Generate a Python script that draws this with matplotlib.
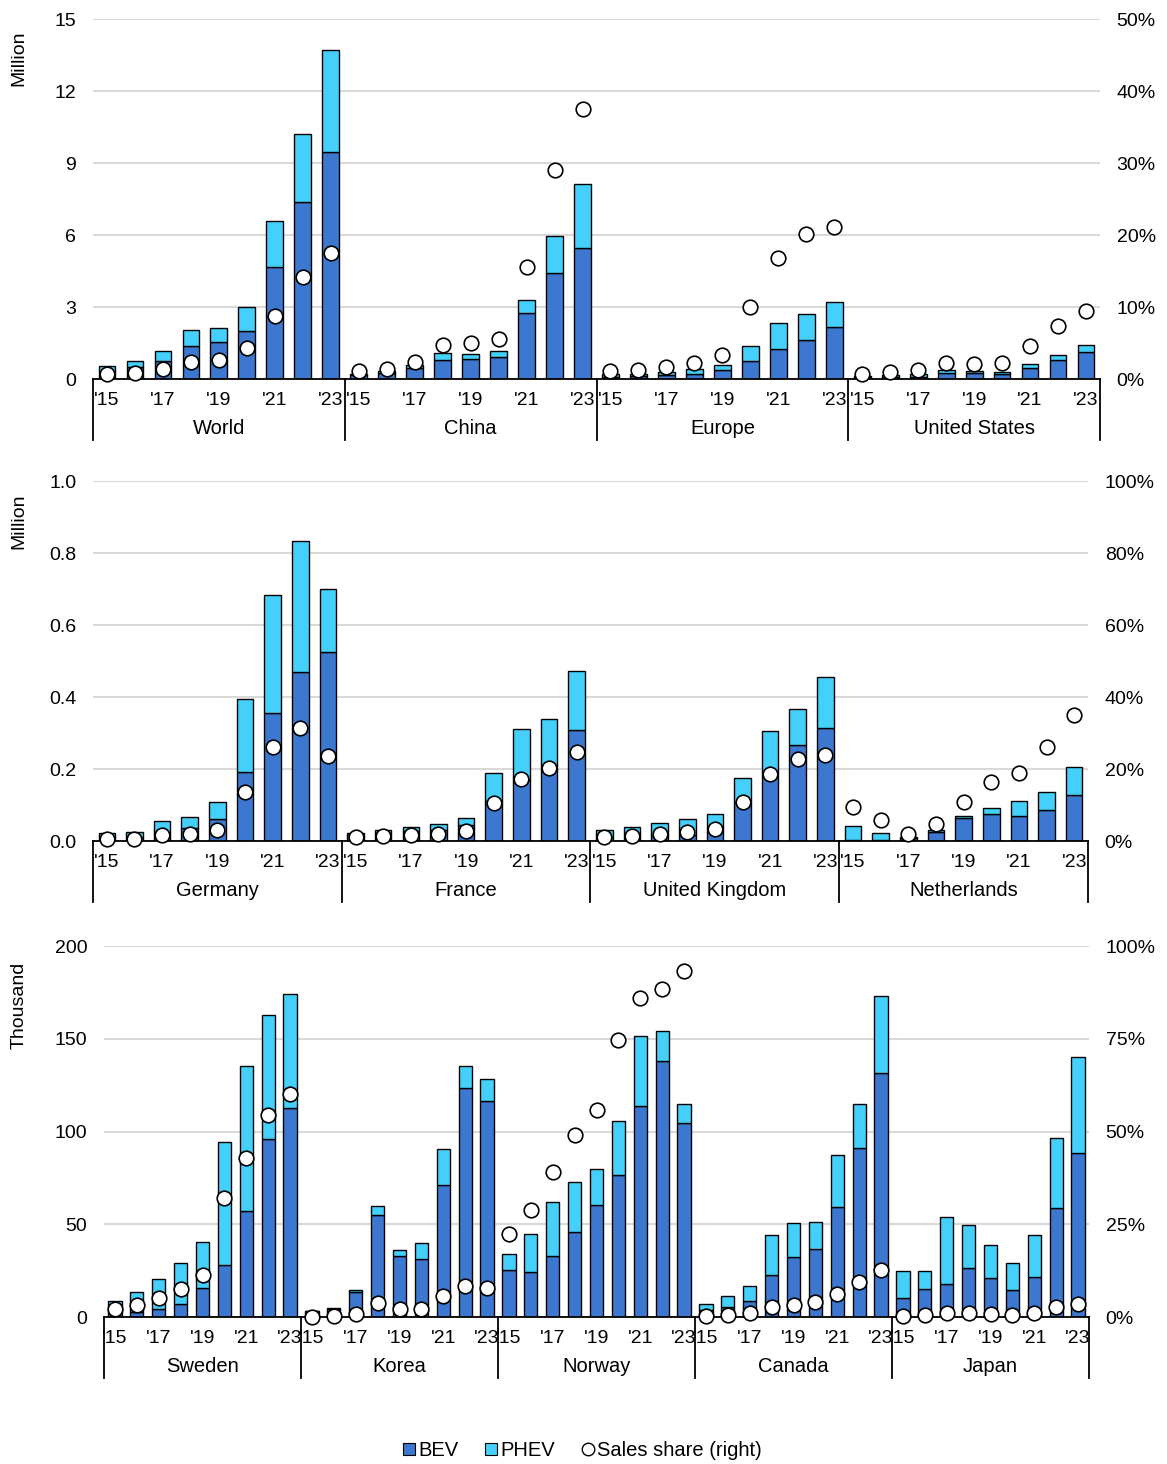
import matplotlib
matplotlib.use("Agg")
import matplotlib.pyplot as plt
import matplotlib.transforms as mtransforms
from matplotlib.lines import Line2D
from matplotlib.ticker import FuncFormatter

plt.rcParams['font.family'] = ['Liberation Sans', 'DejaVu Sans']
plt.rcParams['font.size'] = 14

BEV_COLOR = '#3c78d0'
PHEV_COLOR = '#45d0fc'
GRID_COLOR = '#d9d9d9'

years = ["'15", "", "'17", "", "'19", "", "'21", "", "'23"]

# top panel, million vehicles
top_regions = ['World', 'China', 'Europe', 'United States']
top_bev = [
    [0.33, 0.48, 0.76, 1.36, 1.54, 2.01, 4.67, 7.36, 9.47],
    [0.15, 0.26, 0.47, 0.80, 0.83, 0.92, 2.73, 4.43, 5.44],
    [0.10, 0.11, 0.15, 0.20, 0.37, 0.76, 1.23, 1.64, 2.15],
    [0.07, 0.09, 0.10, 0.25, 0.24, 0.22, 0.46, 0.80, 1.11],
]
top_phev = [
    [0.22, 0.28, 0.42, 0.67, 0.58, 0.99, 1.90, 2.86, 4.25],
    [0.05, 0.09, 0.13, 0.28, 0.22, 0.23, 0.55, 1.51, 2.70],
    [0.09, 0.11, 0.14, 0.20, 0.20, 0.63, 1.10, 1.07, 1.07],
    [0.04, 0.06, 0.10, 0.11, 0.09, 0.07, 0.17, 0.19, 0.29],
]
top_share = [
    [0.7, 0.9, 1.4, 2.4, 2.6, 4.25, 8.8, 14.2, 17.5],
    [1.05, 1.43, 2.4, 4.7, 5.0, 5.6, 15.5, 29.0, 37.5],
    [1.15, 1.2, 1.67, 2.26, 3.3, 10.0, 16.8, 20.2, 21.1],
    [0.7, 1.0, 1.3, 2.26, 2.1, 2.2, 4.6, 7.4, 9.5],
]

# middle panel, million vehicles
mid_regions = ['Germany', 'France', 'United Kingdom', 'Netherlands']
mid_bev = [
    [0.012, 0.011, 0.025, 0.035, 0.062, 0.193, 0.356, 0.470, 0.524],
    [0.017, 0.022, 0.027, 0.031, 0.044, 0.110, 0.170, 0.212, 0.309],
    [0.010, 0.011, 0.014, 0.016, 0.038, 0.108, 0.190, 0.266, 0.315],
    [0.004, 0.004, 0.008, 0.025, 0.063, 0.076, 0.069, 0.087, 0.128],
]
mid_phev = [
    [0.011, 0.014, 0.030, 0.033, 0.046, 0.201, 0.326, 0.363, 0.176],
    [0.006, 0.009, 0.011, 0.016, 0.019, 0.079, 0.141, 0.127, 0.164],
    [0.020, 0.028, 0.035, 0.045, 0.037, 0.068, 0.116, 0.102, 0.140],
    [0.039, 0.018, 0.002, 0.006, 0.006, 0.017, 0.041, 0.050, 0.078],
]
mid_share = [
    [0.65, 0.65, 1.6, 1.9, 3.05, 13.6, 26.0, 31.4, 23.5],
    [1.1, 1.4, 1.6, 1.9, 2.7, 10.5, 17.1, 20.4, 24.8],
    [1.0, 1.5, 1.9, 2.6, 3.2, 10.7, 18.6, 22.8, 24.0],
    [9.5, 5.7, 1.85, 4.7, 10.7, 16.3, 18.8, 26.2, 34.9],
]

# bottom panel, thousand vehicles
bot_regions = ['Sweden', 'Korea', 'Norway', 'Canada', 'Japan']
bot_bev = [
    [2.9, 2.7, 4.3, 6.8, 15.5, 27.9, 57.3, 96.0, 112.7],
    [3.0, 4.3, 13.7, 55.2, 33.1, 31.1, 71.3, 123.6, 116.6],
    [25.5, 24.3, 33.1, 46.0, 60.2, 76.7, 113.6, 138.2, 104.6],
    [4.0, 5.2, 8.6, 22.5, 32.2, 36.8, 59.3, 91.3, 131.5],
    [10.2, 15.3, 18.0, 26.4, 21.2, 14.6, 21.6, 58.8, 88.2],
]
bot_phev = [
    [5.7, 10.6, 16.0, 22.3, 24.9, 66.3, 78.0, 66.8, 61.3],
    [0.2, 0.6, 0.9, 4.6, 2.8, 9.0, 19.1, 11.5, 11.9],
    [8.3, 20.4, 29.1, 26.6, 19.6, 28.8, 38.1, 16.2, 10.0],
    [2.8, 6.3, 8.1, 21.7, 18.7, 14.6, 28.2, 23.7, 41.4],
    [14.4, 9.3, 36.1, 23.4, 17.8, 14.7, 22.8, 37.5, 52.1],
]
bot_share = [
    [2.25, 3.2, 5.0, 7.5, 11.2, 32.2, 42.9, 54.4, 60.0],
    [0.1, 0.2, 0.8, 3.8, 2.2, 2.2, 5.75, 8.4, 7.8],
    [22.3, 28.9, 39.2, 49.1, 55.8, 74.7, 86.1, 88.4, 93.2],
    [0.35, 0.6, 1.0, 2.8, 3.3, 4.1, 6.3, 9.5, 12.7],
    [0.4, 0.45, 1.1, 1.0, 0.8, 0.6, 1.2, 2.8, 3.5],
]

W, H = 1167, 1464
fig = plt.figure(figsize=(W / 100, H / 100), dpi=100)


def px_axes(left, right, top, bottom):
    return fig.add_axes([left / W, 1 - bottom / H, (right - left) / W, (bottom - top) / H])


def draw_panel(ax, regions, bev, phev, share, ymax, ystep, smax, sstep, unit, ylab_y):
    n = len(years)
    xs_all, labels_all = [], []
    for g, name in enumerate(regions):
        xs = [g * n + i for i in range(n)]
        ax.bar(xs, bev[g], width=0.6, color=BEV_COLOR, edgecolor='black', linewidth=1.0, zorder=2)
        ax.bar(xs, phev[g], width=0.6, bottom=bev[g], color=PHEV_COLOR,
               edgecolor='black', linewidth=1.0, zorder=2)
        xs_all += xs
        labels_all += years
    ax.set_xlim(-0.5, len(regions) * n - 0.5)
    ax.set_ylim(0, ymax)
    ax.set_yticks([ystep * k for k in range(int(round(ymax / ystep)) + 1)])
    if ystep < 1:
        ax.yaxis.set_major_formatter(FuncFormatter(lambda v, p: '%.1f' % v))
    ax.set_xticks(xs_all)
    ax.set_xticklabels(labels_all)
    ax.tick_params(axis='both', length=0, labelsize=14)
    ax.tick_params(axis='y', pad=12)
    ax.tick_params(axis='x', pad=9.5)
    ax.grid(axis='y', color=GRID_COLOR, linewidth=1.5)
    ax.set_axisbelow(True)
    for s in ['top', 'left', 'right']:
        ax.spines[s].set_visible(False)
    ax.spines['bottom'].set_linewidth(1.3)
    ax.spines['bottom'].set_zorder(3)

    # group separators and names below the axis
    bbox_h = ax.get_position().height * H
    depth = 61 / bbox_h
    trans = mtransforms.blended_transform_factory(ax.transData, ax.transAxes)
    for g in range(len(regions) + 1):
        ax.plot([g * n - 0.5, g * n - 0.5], [0, -depth], color='black', linewidth=1.3,
                transform=trans, clip_on=False)
    for g, name in enumerate(regions):
        ax.text(g * n + (n - 1) / 2, -49 / bbox_h, name, transform=trans,
                ha='center', va='center', fontsize=14.5)

    ax2 = ax.twinx()
    for g in range(len(regions)):
        xs = [g * n + i for i in range(n)]
        ax2.plot(xs, share[g], 'o', linestyle='none', markersize=10.5,
                 markerfacecolor='white', markeredgecolor='black', markeredgewidth=1.2,
                 zorder=4, clip_on=False)
    ax2.set_ylim(0, smax)
    ax2.set_yticks([sstep * k for k in range(int(round(smax / sstep)) + 1)])
    ax2.yaxis.set_major_formatter(FuncFormatter(lambda v, p: '%d%%' % round(v)))
    ax2.tick_params(axis='y', length=0, labelsize=14, pad=12)
    for s in ['top', 'left', 'right', 'bottom']:
        ax2.spines[s].set_visible(False)

    fig.text(19 / W, 1 - ylab_y / H, unit, rotation=90, ha='center', va='center', fontsize=14)


ax_top = px_axes(93, 1100, 19, 379)
draw_panel(ax_top, top_regions, top_bev, top_phev, top_share, 15, 3, 50, 10, 'Million', 58)

ax_mid = px_axes(93, 1088, 481, 841)
draw_panel(ax_mid, mid_regions, mid_bev, mid_phev, mid_share, 1.0, 0.2, 100, 20, 'Million', 521)

ax_bot = px_axes(104, 1089, 946, 1317)
draw_panel(ax_bot, bot_regions, bot_bev, bot_phev, bot_share, 200, 50, 100, 25, 'Thousand', 1005)

handles = [
    Line2D([], [], marker='s', linestyle='none', markersize=9, markerfacecolor=BEV_COLOR,
           markeredgecolor='black', markeredgewidth=0.8),
    Line2D([], [], marker='s', linestyle='none', markersize=9, markerfacecolor=PHEV_COLOR,
           markeredgecolor='black', markeredgewidth=0.8),
    Line2D([], [], marker='o', linestyle='none', markersize=9, markerfacecolor='white',
           markeredgecolor='black', markeredgewidth=1.0),
]
fig.legend(handles, ['BEV', 'PHEV', 'Sales share (right)'], loc='center',
           bbox_to_anchor=(582 / W, 1 - 1451 / H), ncol=3, frameon=False, fontsize=14.5,
           handlelength=0.7, handletextpad=0.1, columnspacing=1.3)

fig.savefig('out.png', dpi=100)
